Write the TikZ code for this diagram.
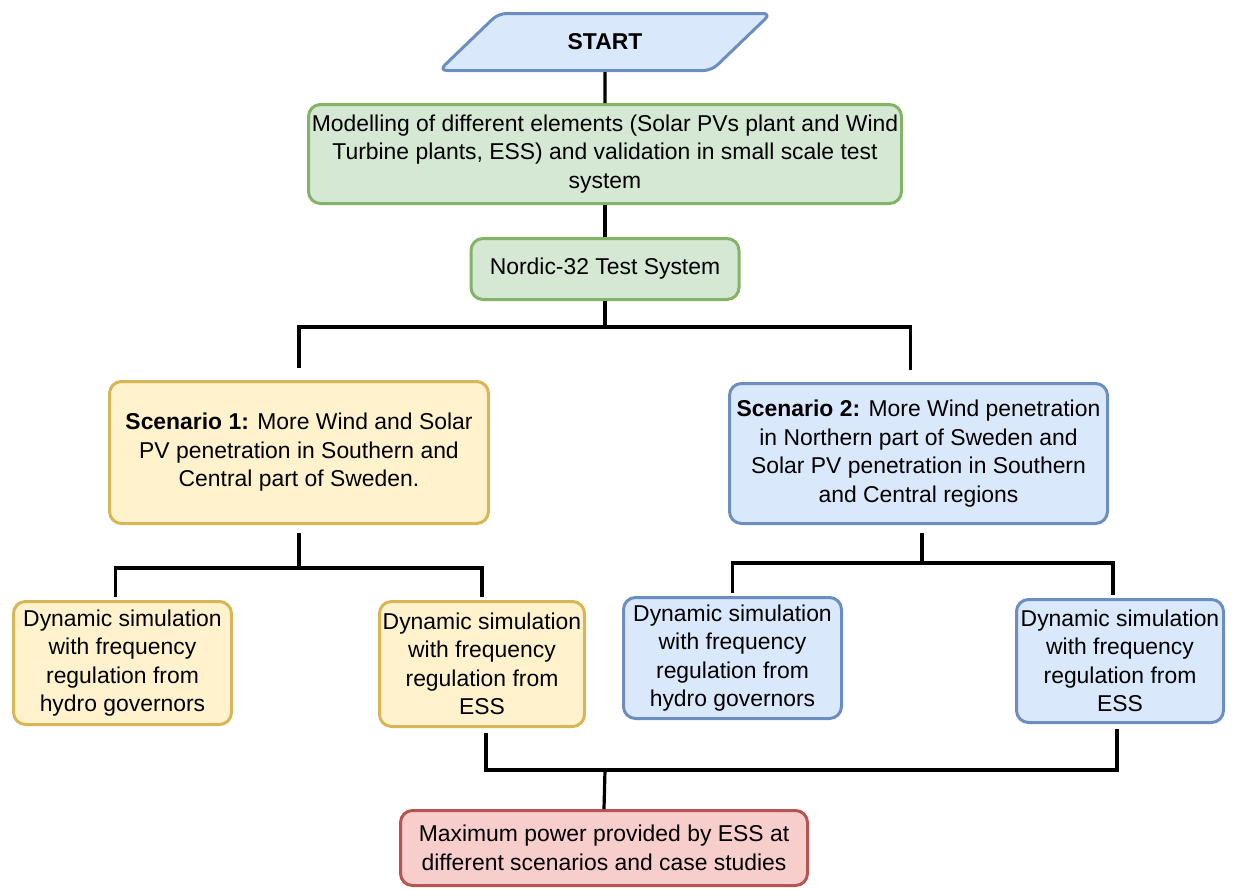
\documentclass[tikz,border=0pt]{standalone}
\usepackage{fontspec}
\setmainfont{Liberation Sans}
\usetikzlibrary{shapes.geometric}
\definecolor{gfill}{HTML}{D5E8D4}
\definecolor{gline}{HTML}{82B366}
\definecolor{bfill}{HTML}{DAE8FC}
\definecolor{bline}{HTML}{6C8EBF}
\definecolor{yfill}{HTML}{FFF2CC}
\definecolor{yline}{HTML}{D6B656}
\definecolor{rfill}{HTML}{F8CECC}
\definecolor{rline}{HTML}{B85450}
\tikzset{
  box/.style={rectangle, rounded corners=12pt, line width=3pt, align=center, inner sep=0pt,
    font=\fontsize{22.9}{28.5}\selectfont},
  greenbox/.style={box, fill=gfill, draw=gline},
  bluebox/.style={box, fill=bfill, draw=bline},
  yellowbox/.style={box, fill=yfill, draw=yline},
  redbox/.style={box, fill=rfill, draw=rline},
  conn/.style={line width=3.2pt, draw=black},
}
\begin{document}
\begin{tikzpicture}[x=1pt,y=-1pt]
\useasboundingbox (0,0) rectangle (1234,889);

\node[trapezium, trapezium left angle=38, trapezium right angle=142, trapezium stretches=true,
  minimum width=332pt, minimum height=57pt, inner sep=0pt, rounded corners=8pt,
  line width=3pt, fill=bfill, draw=bline, font=\fontsize{22.9}{28.5}\selectfont\bfseries]
  (start) at (605,42) {\raisebox{-2pt}{START}};

\node[greenbox, minimum width=593pt, minimum height=99pt] (model) at (605,154)
  {Modelling of different elements (Solar PVs plant and Wind\\Turbine plants, ESS) and validation in small scale test\\system};
\node[greenbox, minimum width=268pt, minimum height=61pt] (nordic) at (605,269)
  {Nordic-32 Test System};

\node[yellowbox, minimum width=379pt, minimum height=142pt] (s1) at (299,452.5)
  {\textbf{Scenario 1:} More Wind and Solar\\PV penetration in Southern and\\Central part of Sweden.};
\node[bluebox, minimum width=378pt, minimum height=140pt] (s2) at (918.5,453.5)
  {\textbf{Scenario 2:} More Wind penetration\\in Northern part of Sweden and\\Solar PV penetration in Southern\\and Central regions};

\node[yellowbox, minimum width=218pt, minimum height=123pt] (h1) at (122.5,663)
  {Dynamic simulation\\with frequency\\regulation from\\hydro governors};
\node[yellowbox, minimum width=205pt, minimum height=125pt] (e1) at (482,664)
  {Dynamic simulation\\with frequency\\regulation from\\ESS};
\node[bluebox, minimum width=218pt, minimum height=121pt] (h2) at (732.5,658)
  {Dynamic simulation\\with frequency\\regulation from\\hydro governors};
\node[bluebox, minimum width=207pt, minimum height=123pt] (e2) at (1120,661)
  {Dynamic simulation\\with frequency\\regulation from\\ESS};

\node[redbox, minimum width=407pt, minimum height=75pt] (final) at (604,848)
  {Maximum power provided by ESS at\\different scenarios and case studies};

\coordinate (j1) at (605,327);
\coordinate (j2) at (299,568);
\coordinate (j3) at (922,563);
\coordinate (j4) at (605,770);

\draw[conn] (start.south) -- (model.north);
\draw[conn] (model.south) -- (nordic.north);
\draw[conn] (nordic.south) -- (j1);
\draw[conn, shorten >=12pt] (j1) -| (s1.north);
\draw[conn, shorten >=12pt] (j1) -| ([xshift=-8pt]s2.north);
\draw[conn, shorten <=8pt] (s1.south) -- (j2);
\draw[conn, shorten >=3pt] (j2) -| ([xshift=-7pt]h1.north);
\draw[conn, shorten >=3pt] (j2) -| (e1.north);
\draw[conn, shorten <=8pt] (s2.south -| j3) -- (j3);
\draw[conn, shorten >=3pt] (j3) -| (h2.north);
\draw[conn, shorten >=3pt] (j3) -| ([xshift=-7pt]e2.north);
\draw[conn, shorten <=5pt, shorten >=5pt] ([xshift=4pt]e1.south) |- (j4) -| ([xshift=-3pt]e2.south);
\draw[conn] (j4) -- (final.north);
\end{tikzpicture}
\end{document}
